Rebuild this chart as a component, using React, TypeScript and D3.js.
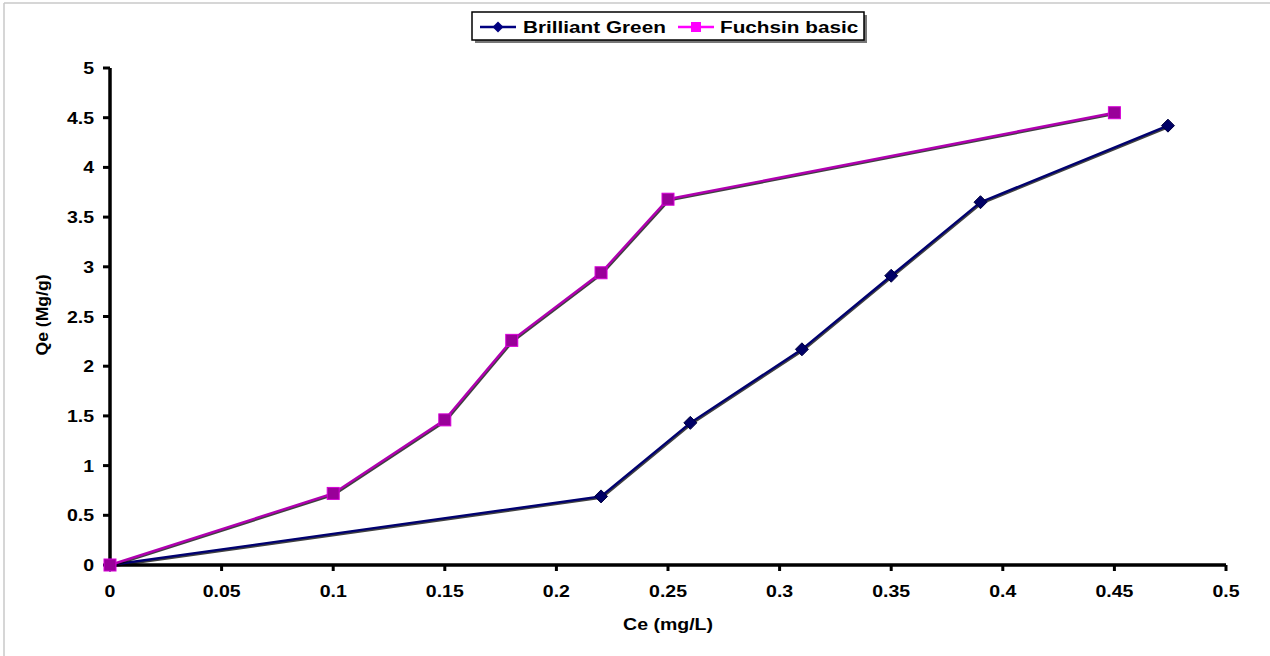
import React from "react";
import * as d3 from "d3";

const bgX = [0, 0.22, 0.26, 0.31, 0.35, 0.39, 0.474];
const bgY = [0, 0.69, 1.43, 2.17, 2.91, 3.65, 4.42];
const fbX = [0, 0.1, 0.15, 0.18, 0.22, 0.25, 0.45];
const fbY = [0, 0.72, 1.46, 2.26, 2.94, 3.68, 4.55];
const xTicks = [0, 0.05, 0.1, 0.15, 0.2, 0.25, 0.3, 0.35, 0.4, 0.45, 0.5];
const yTicks = [0, 0.5, 1, 1.5, 2, 2.5, 3, 3.5, 4, 4.5, 5];
const seriesNames = ["Brilliant Green", "Fuchsin basic"];

const W = 1270, H = 656;
const FONT = "Liberation Sans, Arial, sans-serif";
const SX = 1.22;

function T({ x, y, anchor = "start", size = 16, children }: any) {
  return (
    <text transform={`translate(${x},${y}) scale(${SX},1)`} textAnchor={anchor} fontSize={size} fontWeight="bold" fill="#000">
      {children}
    </text>
  );
}

export default function App() {
  const x = d3.scaleLinear().domain([0, 0.5]).range([110, 1226]);
  const y = d3.scaleLinear().domain([0, 5]).range([565, 68]);
  const line = d3.line<[number, number]>().x(d => x(d[0])).y(d => y(d[1]));
  const bg: [number, number][] = bgX.map((v, i) => [v, bgY[i]]);
  const fb: [number, number][] = fbX.map((v, i) => [v, fbY[i]]);
  const diamond = (cx: number, cy: number, r: number) =>
    `M${cx},${cy - r}L${cx + r},${cy}L${cx},${cy + r}L${cx - r},${cy}Z`;

  return (
    <svg width={W} height={H} style={{ position: "fixed", left: 0, top: 0, background: "#fff" }}
      fontFamily={FONT}>
      <rect x={0} y={0} width={W} height={H} fill="#fff" />
      <line x1={4} y1={3} x2={4} y2={H} stroke="#c8c8c8" strokeWidth={1.5} />
      <line x1={4} y1={3} x2={W} y2={3} stroke="#c8c8c8" strokeWidth={1.5} />

      {/* axes */}
      <line x1={x(0)} y1={y(0)} x2={x(0.5)} y2={y(0)} stroke="#000" strokeWidth={3.5} />
      <line x1={x(0)} y1={y(0)} x2={x(0)} y2={y(5)} stroke="#000" strokeWidth={3.5} />
      {xTicks.map(t => (
        <g key={"x" + t}>
          <line x1={x(t)} x2={x(t)} y1={y(0)} y2={y(0) + 6} stroke="#000" strokeWidth={3} />
          <T x={x(t)} y={597} anchor="middle">{t}</T>
        </g>
      ))}
      {yTicks.map(t => (
        <g key={"y" + t}>
          <line x1={x(0) - 7} x2={x(0)} y1={y(t)} y2={y(t)} stroke="#000" strokeWidth={3} />
          <T x={94} y={y(t) + 6} anchor="end">{t}</T>
        </g>
      ))}
      <T x={668} y={630} anchor="middle">Ce (mg/L)</T>
      <text transform={`translate(48,315) rotate(-90) scale(1.1,1)`} textAnchor="middle" fontSize={16} fontWeight="bold">Qe (Mg/g)</text>

      {/* Brilliant Green */}
      <path d={line(bg) || ""} fill="none" stroke="#000" strokeOpacity={0.75} strokeWidth={2.8} transform="translate(0.8,1)" />
      <path d={line(bg) || ""} fill="none" stroke="#000070" strokeWidth={2.4} />
      {bg.map((d, i) => (
        <path key={"bg" + i} d={diamond(x(d[0]), y(d[1]), 6.5)} fill="#000066" stroke="#000040" strokeWidth={1} />
      ))}

      {/* Fuchsin basic */}
      <path d={line(fb) || ""} fill="none" stroke="#000" strokeOpacity={0.75} strokeWidth={2.8} transform="translate(0.8,1)" />
      <path d={line(fb) || ""} fill="none" stroke="#b000b0" strokeWidth={2.4} />
      {fb.map((d, i) => (
        <rect key={"fb" + i} x={x(d[0]) - 6} y={y(d[1]) - 6} width={12} height={12} fill="#990099" stroke="#d800d8" strokeWidth={1} />
      ))}

      {/* legend */}
      <rect x={475} y={15} width={392} height={28} fill="#777" />
      <rect x={472} y={12} width={392} height={28} fill="#fff" stroke="#000" strokeWidth={1.5} />
      <line x1={480} x2={516} y1={27} y2={27} stroke="#000080" strokeWidth={2.5} />
      <path d={diamond(498, 27, 5.5)} fill="#000080" />
      <T x={523} y={33} size={17}>{seriesNames[0]}</T>
      <line x1={678} x2={714} y1={27} y2={27} stroke="#ff00ff" strokeWidth={2.5} />
      <rect x={691} y={22} width={10} height={10} fill="#ff00ff" />
      <T x={720} y={33} size={17}>{seriesNames[1]}</T>
    </svg>
  );
}
